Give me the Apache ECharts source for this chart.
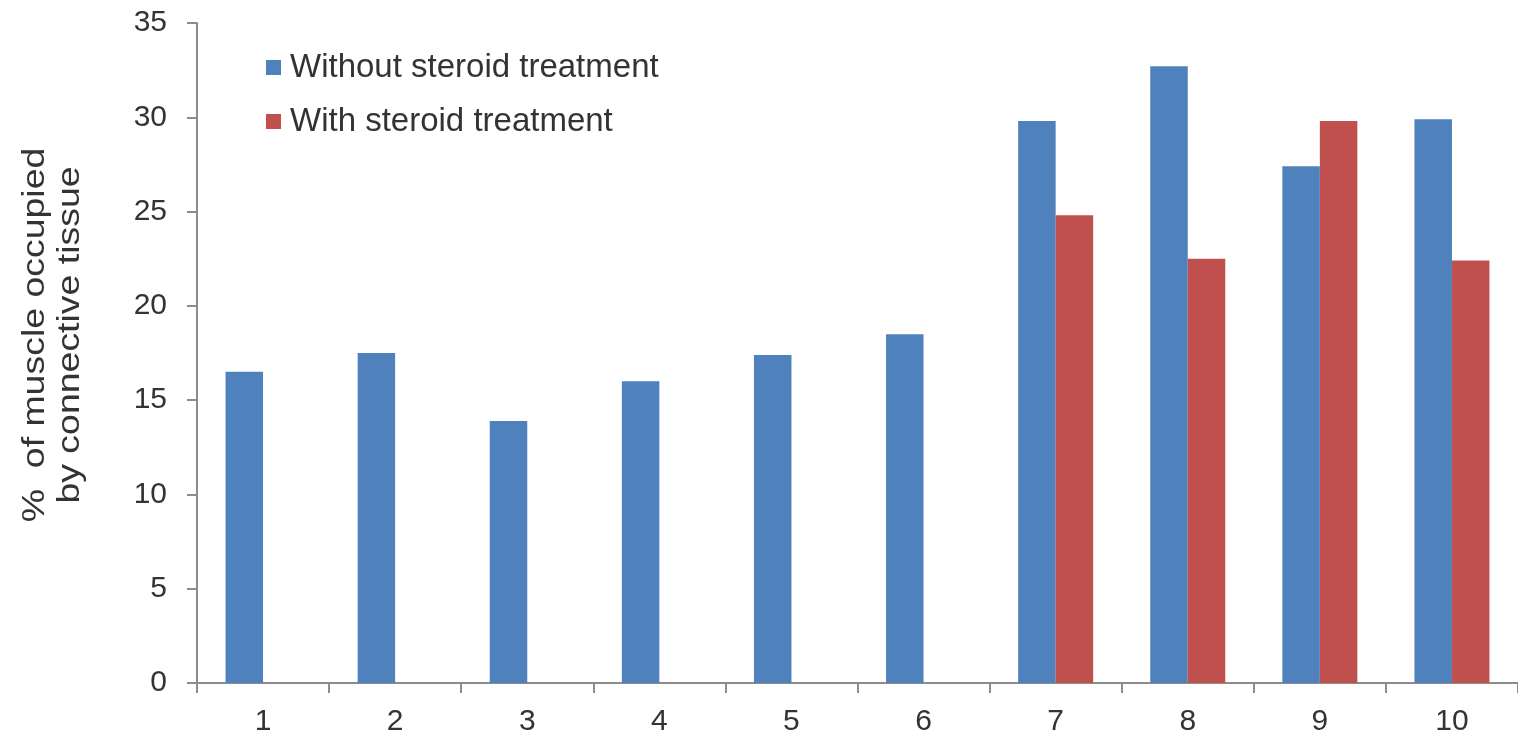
<!DOCTYPE html>
<html>
<head>
<meta charset="utf-8">
<script src="https://cdn.jsdelivr.net/npm/echarts@6/dist/echarts.min.js"></script>
<style>
  html, body { margin: 0; padding: 0; background: #ffffff; }
  #chart { width: 1518px; height: 738px; }
</style>
</head>
<body>
<div id="chart"></div>
<script>
// Sample numbers along the x axis
const categories = ['1', '2', '3', '4', '5', '6', '7', '8', '9', '10'];
// % of muscle occupied by connective tissue
const withoutSteroid = [16.5, 17.5, 13.9, 16.0, 17.4, 18.5, 29.8, 32.7, 27.4, 29.9];
const withSteroid = [null, null, null, null, null, null, 24.8, 22.5, 29.8, 22.4];
const seriesNames = ['Without steroid treatment', 'With steroid treatment'];
const yAxisTitle = ['%  of muscle occupied', 'by connective tissue'];

const FONT = '"Liberation Sans", Arial, sans-serif';
const TEXT = '#333333';
const AXIS = '#8c8c8c';

const chart = echarts.init(document.getElementById('chart'), null, { renderer: 'canvas' });
chart.setOption({
  animation: false,
  backgroundColor: '#ffffff',
  grid: { left: 197, right: 0, top: 23, bottom: 55, containLabel: false },
  legend: {
    orient: 'vertical',
    left: 266,
    top: 51,
    padding: 0,
    itemWidth: 15,
    itemHeight: 15,
    itemGap: 21,
    icon: 'rect',
    textStyle: { fontFamily: FONT, fontSize: 33, color: TEXT, padding: [0, 0, 0, 4] },
    data: seriesNames
  },
  xAxis: {
    type: 'category',
    data: categories,
    axisLine: { lineStyle: { color: AXIS, width: 2 } },
    axisTick: { show: true, length: 10, inside: false, lineStyle: { color: AXIS, width: 2 } },
    axisLabel: { fontFamily: FONT, fontSize: 30, color: TEXT, margin: 24 }
  },
  yAxis: {
    type: 'value',
    min: 0,
    max: 35,
    interval: 5,
    splitLine: { show: false },
    axisLine: { show: true, lineStyle: { color: AXIS, width: 2 } },
    axisTick: { show: true, length: 10, lineStyle: { color: AXIS, width: 2 } },
    axisLabel: { fontFamily: FONT, fontSize: 30, color: TEXT, margin: 30 }
  },
  graphic: [{
    type: 'text',
    x: 53,
    y: 335,
    rotation: Math.PI / 2,
    scaleX: 1.17,
    scaleY: 1,
    style: {
      text: yAxisTitle.join('\n'),
      font: '32px ' + FONT,
      fill: TEXT,
      align: 'center',
      verticalAlign: 'middle',
      lineHeight: 35
    }
  }],
  series: [
    {
      name: seriesNames[0],
      type: 'bar',
      data: withoutSteroid,
      barWidth: 37.5,
      barGap: '0%',
      itemStyle: { color: '#4F81BD' }
    },
    {
      name: seriesNames[1],
      type: 'bar',
      data: withSteroid,
      barWidth: 37.5,
      barGap: '0%',
      itemStyle: { color: '#C0504D' }
    }
  ]
});
</script>
</body>
</html>
